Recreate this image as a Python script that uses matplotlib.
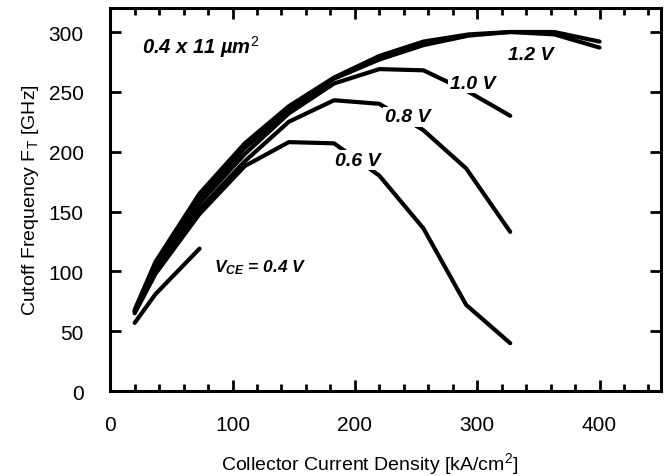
"""Cutoff frequency vs collector current density for several V_CE values."""
import matplotlib
matplotlib.use("Agg")
import matplotlib.pyplot as plt
from matplotlib.ticker import MultipleLocator

plt.rcParams['font.family'] = ['Liberation Sans', 'DejaVu Sans']
plt.rcParams['mathtext.fontset'] = 'custom'
plt.rcParams['mathtext.rm'] = 'Liberation Sans'
plt.rcParams['mathtext.it'] = 'Liberation Sans:italic:bold'

# Collector current density [kA/cm^2] and f_T [GHz] per V_CE
J_04 = [20, 37, 73]
FT_04 = [57, 81, 119]

J_06 = [20, 37, 73, 110, 146, 183, 220, 256, 291, 327]
FT_06 = [65, 98, 148, 188, 208, 207, 180, 136, 72, 40]

J_08 = [20, 37, 73, 110, 146, 183, 220, 256, 291, 327]
FT_08 = [66, 100, 152, 192, 225, 243, 240, 218, 186, 133]

J_10 = [20, 37, 73, 110, 146, 183, 220, 256, 293, 327]
FT_10 = [67, 103, 157, 198, 232, 257, 269, 268, 250, 230]

J_12 = [20, 37, 73, 110, 146, 183, 220, 256, 293, 327, 363, 400]
FT_12 = [68, 108, 165, 207, 238, 262, 280, 292, 298, 300, 300, 292]

J_14 = [20, 37, 73, 110, 146, 183, 220, 256, 293, 327, 363, 400]
FT_14 = [67, 105, 161, 203, 235, 261, 277, 289, 297, 300, 298, 287]

CURVES = [(J_04, FT_04), (J_06, FT_06), (J_08, FT_08),
          (J_10, FT_10), (J_12, FT_12), (J_14, FT_14)]


def main():
    fig = plt.figure(figsize=(6.64, 4.77), dpi=100)
    ax = fig.add_axes([0.166, 0.178, 0.829, 0.803])

    for j, ft in CURVES:
        ax.plot(j, ft, color="black", lw=3.0, solid_capstyle="round")

    label_kw = dict(fontsize=14, fontweight="bold", fontstyle="italic",
                    ha="center", va="center")
    gap = dict(facecolor="white", edgecolor="none", pad=1.0)
    ax.text(202, 193, "0.6 V", bbox=gap, **label_kw)
    ax.text(243, 229, "0.8 V", bbox=gap, **label_kw)
    ax.text(296, 257, "1.0 V", bbox=gap, **label_kw)
    ax.text(344, 281, "1.2 V", **label_kw)
    ax.text(85, 104, r"V$_{\mathit{CE}}$ = 0.4 V", fontsize=12.5,
            fontweight="bold", fontstyle="italic", ha="left", va="center")
    ax.text(26, 288, r"0.4 x 11 µm$^{\mathit{2}}$", fontsize=14.5,
            fontweight="bold", fontstyle="italic", ha="left", va="center")

    ax.set_xlim(0, 450)
    ax.set_ylim(0, 320)
    ax.xaxis.set_major_locator(MultipleLocator(100))
    ax.xaxis.set_minor_locator(MultipleLocator(20))
    ax.yaxis.set_major_locator(MultipleLocator(50))
    ax.tick_params(which="both", direction="in", top=True, right=True,
                   width=2, labelsize=15)
    ax.tick_params(which="major", length=8)
    ax.tick_params(axis="x", which="major", pad=17)
    ax.tick_params(axis="y", which="major", pad=19)
    ax.tick_params(which="minor", length=5)
    for spine in ax.spines.values():
        spine.set_linewidth(2.2)

    ax.set_xlabel(r"Collector Current Density [kA/cm$^2$]", fontsize=14)
    ax.set_ylabel(r"Cutoff Frequency F$_\mathregular{T}$ [GHz]",
                  fontsize=14)
    ax.xaxis.set_label_coords(0.472, -0.155)
    ax.yaxis.set_label_coords(-0.125, 0.5)

    fig.savefig("out.png", dpi=100)
    plt.close(fig)


if __name__ == "__main__":
    main()
